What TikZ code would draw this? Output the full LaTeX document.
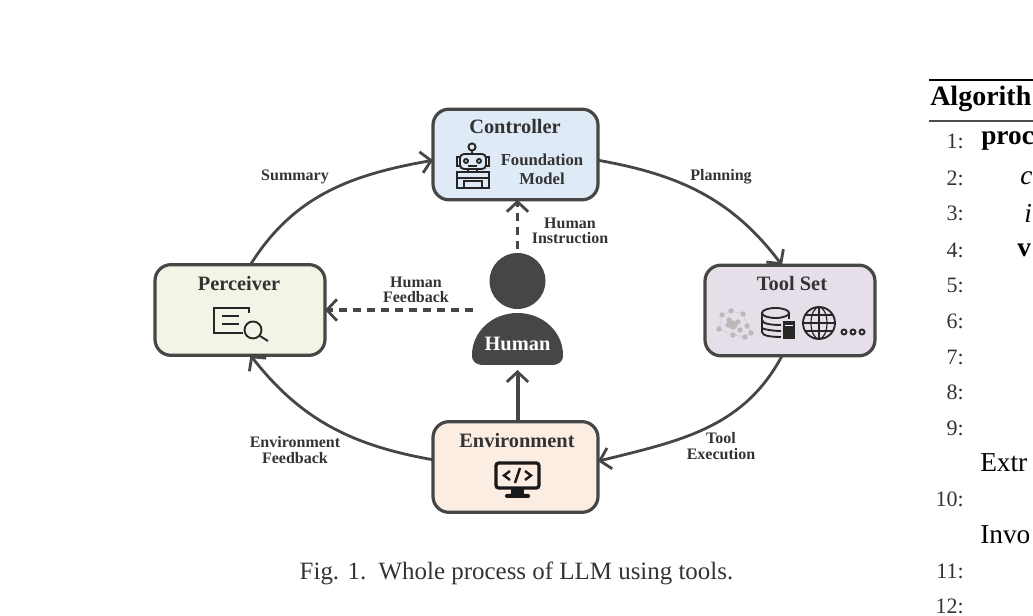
\documentclass[tikz,border=0pt]{standalone}
\usepackage{fontspec}
\setmainfont{Liberation Serif}
\usetikzlibrary{arrows.meta}

\definecolor{linegray}{HTML}{464646}
\definecolor{inkgray}{HTML}{333333}
\definecolor{ctrlblue}{HTML}{DEEAF6}
\definecolor{toolmauve}{HTML}{E6DEE8}
\definecolor{percgreen}{HTML}{F2F5E6}
\definecolor{envpeach}{HTML}{FBEDE2}

\tikzset{
    boxnode/.style={draw=linegray, line width=2.4pt, rounded corners=12pt, inner sep=0pt, outer sep=0pt, minimum height=68pt},
    titletext/.style={font=\fontsize{15.3}{17}\selectfont\bfseries, text=inkgray, inner sep=0pt},
    flowlabel/.style={font=\fontsize{12}{11.5}\selectfont\bfseries, text=inkgray, align=center, inner sep=0pt},
    flowline/.style={draw=linegray, line width=2.1pt, -{Straight Barb[length=7.5pt,width=16pt,line width=2.1pt]}},
    humanline/.style={flowline, line width=2.6pt, dash pattern=on 6pt off 4.5pt},
    iconline/.style={draw=black!85, line width=1.4pt},
    netdot/.style={circle, fill=gray!55, inner sep=0pt, minimum size=4pt},
    linenum/.style={font=\fontsize{16.5}{18}\selectfont, text=black!80, anchor=east, inner sep=0pt},
    algotext/.style={font=\fontsize{20.5}{22}\selectfont, text=black, anchor=west, inner sep=0pt},
}

\begin{document}
\begin{tikzpicture}[x=0.75pt, y=0.75pt]
    \useasboundingbox (0,0) rectangle (1033,616);

    % boxes
    \node[boxnode, fill=ctrlblue, minimum width=123.75pt] (ctrl) at (515.5,461.5) {};
    \node[boxnode, fill=toolmauve, minimum width=127.5pt] (tools) at (790,305.5) {};
    \node[boxnode, fill=percgreen, minimum width=127.5pt] (perc) at (240,306) {};
    \node[boxnode, fill=envpeach, minimum width=123.75pt] (env) at (515.5,149) {};

    \node[titletext] (ctrltitle) at (515,489) {Controller};
    \node[titletext] (toolstitle) at (792,332) {Tool Set};
    \node[titletext] (perctitle) at (239,332) {Perceiver};
    \node[titletext] (envtitle) at (517,175) {Environment};
    \node[flowlabel, font=\fontsize{12.5}{14.5}\selectfont\bfseries] (model) at (542,447) {Foundation\\Model};

    % human
    \node[circle, fill=linegray, inner sep=0pt, minimum size=42pt] (head) at (517.5,335) {};
    \fill[linegray] (484,251) .. controls (476,251) and (472,254) .. (472,261)
        .. controls (472,284) and (492,303) .. (517.5,303)
        .. controls (543,303) and (563,284) .. (563,261)
        .. controls (563,254) and (559,251) .. (551,251) -- cycle;
    \node[titletext, text=white] (human) at (517.5,272) {Human};
    \coordinate (bodybase) at (517.5,246);
    \coordinate (feedstart) at (473,306);

    % connectors
    \draw[flowline] (ctrl.-4) to[out=-10, in=127] (tools.100);
    \draw[flowline] (tools.260) to[out=-118, in=14] (env.4);
    \draw[flowline] (env.175) to[out=170, in=-52] (perc.-77);
    \draw[flowline] (perc.77) to[out=58, in=190] (ctrl.184);
    \draw[flowline, line width=3pt] (head |- env.north) -- (bodybase);
    \draw[humanline] ([yshift=3pt]head.north) -- (head |- ctrl.south);
    \draw[humanline] (feedstart) -- (perc.east);

    % labels
    \node[flowlabel] (summary) at (295,439) {Summary};
    \node[flowlabel] (planning) at (721,439) {Planning};
    \node[flowlabel] (instruction) at (570,385) {Human\\Instruction};
    \node[flowlabel] (feedback) at (416,326) {Human\\Feedback};
    \node[flowlabel] (envfeedback) at (295,166) {Environment\\Feedback};
    \node[flowlabel] (execution) at (721,170) {Tool\\Execution};

    % robot
    \draw[iconline] (472,469) circle (3.6);
    \draw[iconline] (472,465) -- (472,462);
    \draw[iconline, rounded corners=3pt] (460,447) rectangle (486,462);
    \draw[iconline] (460,459) -- (457,459) -- (457,450) -- (460,450);
    \draw[iconline] (486,459) -- (489,459) -- (489,450) -- (486,450);
    \draw[iconline] (466,455) circle (2);
    \draw[iconline] (479,455) circle (2);
    \draw[iconline] (468,450) -- (477,450);
    \draw[iconline] (468,447) -- (468,444);
    \draw[iconline] (477,447) -- (477,444);
    \draw[iconline] (457,444) rectangle (489,428);
    \draw[iconline] (457,438) -- (489,438);
    \draw[iconline] (464,428) -- (464,435) -- (482,435) -- (482,428);

    % tool set icons
    \draw[gray!40, line width=0.4pt] (722,301) -- (731,305) -- (743,302) -- (751,283) -- (745,279) -- (733,281) -- (719,287) -- cycle;
    \foreach \px/\py in {728/291,738/294,747/290,743/302,731/305,722/301,719/287,733/281,745/279,751/283,729/296,740/286}
        \node[netdot] at (\px,\py) {};
    \node[netdot, minimum size=7pt] (hub) at (733,291) {};
    \draw[iconline] (775.5,303) ellipse (13.5 and 5);
    \draw[iconline] (789,303) -- (789,297);
    \draw[iconline] (762,303) -- (762,284) .. controls (762,280) and (772,279) .. (781,279);
    \draw[iconline] (762,296) .. controls (762,292) and (772,291) .. (781,291);
    \draw[iconline] (762,288) .. controls (762,287) and (772,285) .. (781,285);
    \fill[black!85] (783,277) rectangle (795,295);
    \fill[white] (785,290) rectangle (793,291);
    \draw[iconline] (819,293) circle (16);
    \draw[iconline, line width=0.9pt] (819,293) ellipse (8 and 16);
    \draw[iconline, line width=0.9pt] (819,277) -- (819,309) (803,293) -- (835,293) (805,301) -- (833,301) (805,285) -- (833,285);
    \draw[iconline] (844,284) circle (2.5);
    \draw[iconline] (853,284) circle (2.5);
    \draw[iconline] (862,284) circle (2.5);

    % perceiver icon
    \draw[iconline] (249,303) -- (249,308) -- (214,308) -- (214,283) -- (243,283);
    \draw[iconline] (222,300) -- (239,300);
    \draw[iconline] (222,292) -- (239,292);
    \draw[iconline] (253,286) circle (8.5);
    \draw[iconline] (260,280) -- (268,275);

    % environment icon
    \draw[black!90, line width=2.4pt, rounded corners=2pt] (496,153) rectangle (539,128);
    \fill[black!90] (511,128) rectangle (524,120);
    \fill[black!90, rounded corners=1pt] (505,122) rectangle (530,118);
    \draw[black!90, line width=1.8pt] (510,145) -- (504,140.5) -- (510,136);
    \draw[black!90, line width=1.8pt] (525,145) -- (531,140.5) -- (525,136);
    \draw[black!90, line width=1.8pt] (520,148) -- (515,133);

    % caption
    \node[font=\fontsize{18.7}{20}\selectfont, text=inkgray, inner sep=0pt] (caption) at (516.5,43) {Fig. 1.\enspace Whole process of LLM using tools.};

    % algorithm fragment
    \coordinate (ruleA) at (929,536);
    \coordinate (ruleB) at (929,495);
    \draw[black, line width=1.5pt] (ruleA) -- (ruleA -| 1033,0);
    \draw[black!70, line width=1pt] (ruleB) -- (ruleB -| 1033,0);
    \node[algotext, font=\fontsize{21}{22}\selectfont\bfseries] (algo) at (930,517) {Algorith};
    \node[algotext, font=\fontsize{20.5}{22}\selectfont\bfseries] (proc) at (981,475) {proc};
    \node[algotext, font=\fontsize{20.5}{22}\selectfont\itshape] (lineB) at (1020,438) {c};
    \node[algotext, font=\fontsize{20.5}{22}\selectfont\itshape] (lineC) at (1024,403) {i};
    \node[algotext, font=\fontsize{20.5}{22}\selectfont\bfseries] (lineD) at (1017,366) {v};
    \node[algotext] (extr) at (980,153) {Extr};
    \node[algotext] (invo) at (980,81) {Invo};
    \node[linenum] (num1) at (964,475) {1:};
    \node[linenum] (num2) at (964,438) {2:};
    \node[linenum] (num3) at (964,403) {3:};
    \node[linenum] (num4) at (964,366) {4:};
    \node[linenum] (num5) at (964,331) {5:};
    \node[linenum] (num6) at (964,295) {6:};
    \node[linenum] (num7) at (964,259) {7:};
    \node[linenum] (num8) at (964,224) {8:};
    \node[linenum] (num9) at (964,188) {9:};
    \node[linenum] (num10) at (964,117) {10:};
    \node[linenum] (num11) at (964,45) {11:};
    \node[linenum] (num12) at (964,10) {12:};
\end{tikzpicture}
\end{document}
